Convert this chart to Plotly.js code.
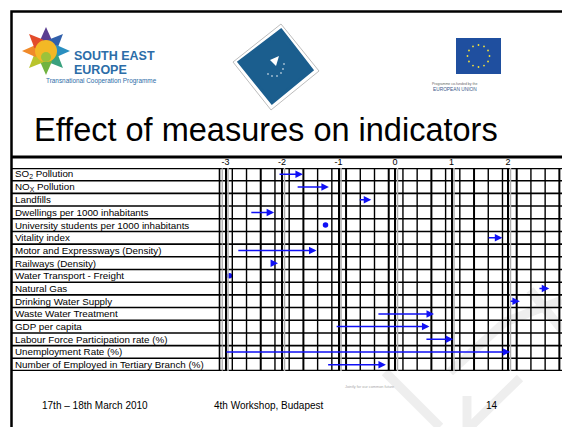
<!DOCTYPE html>
<html><head><meta charset="utf-8">
<script src="https://cdn.plot.ly/plotly-3.0.1.min.js"></script>
<style>html,body{margin:0;padding:0;background:#fff;overflow:hidden}</style>
</head><body>
<div id="chart" style="width:562px;height:427px"></div>
<script>
// ---- data ----
const indicators = [
  "SO<sub>2</sub> Pollution",
  "NO<sub>X</sub> Pollution",
  "Landfills",
  "Dwellings per 1000 inhabitants",
  "University students per 1000 inhabitants",
  "Vitality index",
  "Motor and Expressways (Density)",
  "Railways (Density)",
  "Water Transport - Freight",
  "Natural Gas",
  "Drinking Water Supply",
  "Waste Water Treatment",
  "GDP per capita",
  "Labour Force Participation rate (%)",
  "Unemployment Rate (%)",
  "Number of Employed in Tertiary Branch (%)"
];
const startVals = [-2.07, -1.75, -0.65, -2.57, -1.23, 1.63, -2.80, -2.18, -2.93, 2.53, 2.02, -0.32, -1.06, 0.53, -3.01, -1.21];
const endVals   = [-1.63, -1.17, -0.42, -2.14, -1.23, 1.90, -1.39, -2.07, -2.93, 2.73, 2.21,  0.69,  0.61, 1.03,  2.04, -0.16];
const tickVals = [-3, -2, -1, 0, 1, 2];
const tickLabels = ["-3", "-2", "-1", "0", "1", "2"];
const titleText = "Effect of measures on indicators";
const footerDate = "17th \u2013 18th March 2010";
const footerEvent = "4th Workshop, Budapest";
const footerPage = "14";

// ---- helpers (pixel -> paper) ----
const W = 562, H = 427;
const X = p => p / W;
const Y = p => 1 - p / H;
const pathOf = pts => pts.map((p, i) => (i ? 'L' : 'M') + X(p[0]).toFixed(5) + ',' + Y(p[1]).toFixed(5)).join(' ') + ' Z';
const pathOpen = pts => pts.map((p, i) => (i ? 'L' : 'M') + X(p[0]).toFixed(5) + ',' + Y(p[1]).toFixed(5)).join(' ');
const FONT = 'Liberation Sans, Arial, sans-serif';
const BLUE = '#1010f5';

const shapes = [];
const annotations = [];

// watermark (light gray) bottom-right
const wm = {color: '#eeeeee', width: 9};
[[[385, 372], [440, 427]], [[470, 427], [520, 378]], [[467, 396], [467, 427]],
 [[450, 372], [505, 322]], [[505, 322], [562, 300]], [[530, 290], [562, 330]]].forEach(seg => {
  shapes.push({type: 'path', xref: 'paper', yref: 'paper', layer: 'below', path: pathOpen(seg), line: wm});
});

// slide frame
shapes.push({type: 'path', xref: 'paper', yref: 'paper', path: pathOpen([[11.5, 427], [11.5, 11.5], [562, 11.5]]), line: {color: '#000', width: 2.5}});
// table top line
shapes.push({type: 'line', xref: 'paper', yref: 'paper', x0: X(11), x1: 1, y0: Y(157), y1: Y(157), line: {color: '#000', width: 3}});

// horizontal row lines
for (let i = 0; i <= indicators.length; i++) {
  const edge = (i === 0 || i === indicators.length);
  shapes.push({type: 'line', xref: 'paper', yref: 'y', x0: X(11), x1: 1, y0: i - 0.5, y1: i - 0.5,
    line: {color: '#000', width: edge ? 2.5 : 1.6}});
}
// label column separator
shapes.push({type: 'line', xref: 'paper', yref: 'y', x0: X(219.5), x1: X(219.5), y0: -0.5, y1: indicators.length - 0.5, line: {color: '#000', width: 1.6}});
shapes.push({type: 'line', xref: 'paper', yref: 'y', x0: X(222.2), x1: X(222.2), y0: -0.5, y1: indicators.length - 0.5, line: {color: '#999', width: 1}});
// table column lines
for (let k = 0; k < 24; k++) {
  const p = 232.3 + 14.22 * k;
  shapes.push({type: 'line', xref: 'paper', yref: 'y', x0: X(p), x1: X(p), y0: -0.5, y1: indicators.length - 0.5,
    line: {color: '#000', width: (k % 3 === 2) ? 2 : 1.4}});
}
// gray shadow next to integer gridlines
tickVals.forEach(v => {
  shapes.push({type: 'line', xref: 'x', yref: 'y', xsizemode: 'pixel', xanchor: v, x0: 2.5, x1: 2.5,
    y0: -0.5, y1: indicators.length - 0.5, line: {color: '#b0b0b0', width: 1.5}});
});

// row labels
indicators.forEach((name, i) => {
  annotations.push({xref: 'paper', yref: 'y', x: X(13), y: i, xanchor: 'left', yanchor: 'middle',
    text: name, showarrow: false, font: {family: FONT, size: 9.8, color: '#000'}});
});

// arrows
indicators.forEach((name, i) => {
  if (startVals[i] !== endVals[i]) {
    annotations.push({xref: 'x', yref: 'y', axref: 'x', ayref: 'y', x: endVals[i], y: i, ax: startVals[i], ay: i,
      text: '', showarrow: true, arrowhead: 2, arrowsize: 1.0, arrowwidth: 1.5, arrowcolor: BLUE, standoff: 0, startstandoff: 0});
  }
});

// ---- logos ----
// SEE star
const cx = 46, cy = 51;
const starCols = ['#5a3e91', '#3160ab', '#2a8fc0', '#3aa17e', '#71b340', '#b9c42c', '#f08a2a', '#e34b2a'];
for (let j = 0; j < 8; j++) {
  const a = (-90 + 45 * j) * Math.PI / 180, th = 30 * Math.PI / 180;
  const R = 24, r = 12;
  shapes.push({type: 'path', xref: 'paper', yref: 'paper', line: {width: 0},
    fillcolor: starCols[j], path: pathOf([[cx + R * Math.cos(a), cy + R * Math.sin(a)],
      [cx + r * Math.cos(a + th), cy + r * Math.sin(a + th)], [cx, cy], [cx + r * Math.cos(a - th), cy + r * Math.sin(a - th)]])});
}
shapes.push({type: 'circle', xref: 'paper', yref: 'paper', x0: X(cx - 11), x1: X(cx + 11), y0: Y(cy - 11), y1: Y(cy + 11),
  fillcolor: '#f3b825', line: {width: 0}});
shapes.push({type: 'circle', xref: 'paper', yref: 'paper', x0: X(cx - 5), x1: X(cx + 5), y0: Y(cy + 1), y1: Y(cy + 11),
  fillcolor: '#9cc23a', line: {width: 0}});
const seeBlue = '#2c6da8';
annotations.push({xref: 'paper', yref: 'paper', x: X(72), y: Y(56), xanchor: 'left', yanchor: 'middle',
  text: 'SOUTH EAST', showarrow: false, font: {family: FONT, size: 12.5, weight: 'bold', color: seeBlue}});
annotations.push({xref: 'paper', yref: 'paper', x: X(72), y: Y(70.5), xanchor: 'left', yanchor: 'middle',
  text: 'EUROPE', showarrow: false, font: {family: FONT, size: 12.5, weight: 'bold', color: seeBlue}});
annotations.push({xref: 'paper', yref: 'paper', x: X(44), y: Y(80.5), xanchor: 'left', yanchor: 'middle', text: 'Transnational Cooperation Programme', showarrow: false, font: {family: FONT, size: 6.4, color: seeBlue}});

// middle diamond logo
shapes.push({type: 'path', xref: 'paper', yref: 'paper', fillcolor: '#ffffff', line: {color: '#bdbdbd', width: 1},
  path: pathOf([[281, 24], [319, 71], [271, 110], [233, 62]])});
shapes.push({type: 'path', xref: 'paper', yref: 'paper', fillcolor: '#1b5e8e', line: {color: '#1b5e8e', width: 3},
  path: pathOf([[281, 30], [312, 70], [272, 103], [239, 62]])});
shapes.push({type: 'path', xref: 'paper', yref: 'paper', fillcolor: '#ffffff', line: {width: 0},
  path: pathOf([[270, 60], [279, 56], [276, 66]])});
[[268, 74], [272, 76], [277, 76], [281, 73], [283, 69], [284, 64]].forEach(d => {
  shapes.push({type: 'circle', xref: 'paper', yref: 'paper', x0: X(d[0] - 0.8), x1: X(d[0] + 0.8), y0: Y(d[1] - 0.8), y1: Y(d[1] + 0.8), fillcolor: '#fff', line: {width: 0}});
});

// EU flag
shapes.push({type: 'rect', xref: 'paper', yref: 'paper', x0: X(456), x1: X(501), y0: Y(38), y1: Y(74), fillcolor: '#1f4f9f', line: {width: 0}});
for (let s = 0; s < 12; s++) {
  const a = s * Math.PI / 6;
  const sx = 478.5 + 11 * Math.cos(a), sy = 56 + 11 * Math.sin(a);
  shapes.push({type: 'circle', xref: 'paper', yref: 'paper', x0: X(sx - 0.9), x1: X(sx + 0.9), y0: Y(sy - 0.9), y1: Y(sy + 0.9), fillcolor: '#f5e23a', line: {width: 0}});
}
annotations.push({xref: 'paper', yref: 'paper', x: X(478.5), y: Y(79.5), text: 'Programme co-funded by the', showarrow: false, font: {family: FONT, size: 3.5, color: '#666'}});
annotations.push({xref: 'paper', yref: 'paper', x: X(478.5), y: Y(84.5), text: 'EUROPEAN UNION', showarrow: false, font: {family: FONT, size: 4.8, color: '#3a5a8a'}});

// title and footer
annotations.push({xref: 'paper', yref: 'paper', x: X(266), y: Y(130), xanchor: 'center', yanchor: 'middle', text: titleText, showarrow: false, font: {family: FONT, size: 32.5, color: '#000'}});
annotations.push({xref: 'paper', yref: 'paper', x: X(40), y: Y(405), xanchor: 'left', yanchor: 'middle', text: footerDate, showarrow: false, font: {family: FONT, size: 10, color: '#000'}});
annotations.push({xref: 'paper', yref: 'paper', x: X(212), y: Y(405), xanchor: 'left', yanchor: 'middle', text: footerEvent, showarrow: false, font: {family: FONT, size: 10, color: '#000'}});
annotations.push({xref: 'paper', yref: 'paper', x: X(500), y: Y(405), xanchor: 'right', yanchor: 'middle', text: footerPage, showarrow: false, font: {family: FONT, size: 10, color: '#000'}});
annotations.push({xref: 'paper', yref: 'paper', x: X(369), y: Y(387), xanchor: 'center', yanchor: 'middle', text: 'Jointly for our common future', showarrow: false, font: {family: FONT, size: 3.8, color: '#a8a8a8'}});

// dots (no change)
const dotX = [], dotY = [];
indicators.forEach((name, i) => { if (startVals[i] === endVals[i]) { dotX.push(startVals[i]); dotY.push(name); } });

const traces = [{
  type: 'scatter', mode: 'markers', x: dotX, y: dotY, hoverinfo: 'skip',
  marker: {color: BLUE, size: 5.5}
}];

const layout = {
  width: W, height: H,
  margin: {l: 0, r: 0, t: 0, b: 0},
  paper_bgcolor: '#ffffff', plot_bgcolor: 'rgba(0,0,0,0)',
  showlegend: false,
  xaxis: {
    domain: [X(218), 1], range: [-3.133, 2.956], side: 'top',
    tickvals: tickVals, ticktext: tickLabels, ticks: '',
    tickfont: {family: FONT, size: 9, color: '#000'},
    showgrid: true, gridcolor: '#000', gridwidth: 2, zeroline: false, showline: false, fixedrange: true
  },
  yaxis: {
    domain: [Y(371), Y(168)], type: 'category', categoryarray: indicators, categoryorder: 'array',
    range: [indicators.length - 0.5, -0.5], showticklabels: false, showgrid: false, zeroline: false, showline: false, ticks: '', fixedrange: true
  },
  shapes: shapes,
  annotations: annotations
};

Plotly.newPlot('chart', traces, layout, {staticPlot: true, displayModeBar: false});
</script>
</body></html>
